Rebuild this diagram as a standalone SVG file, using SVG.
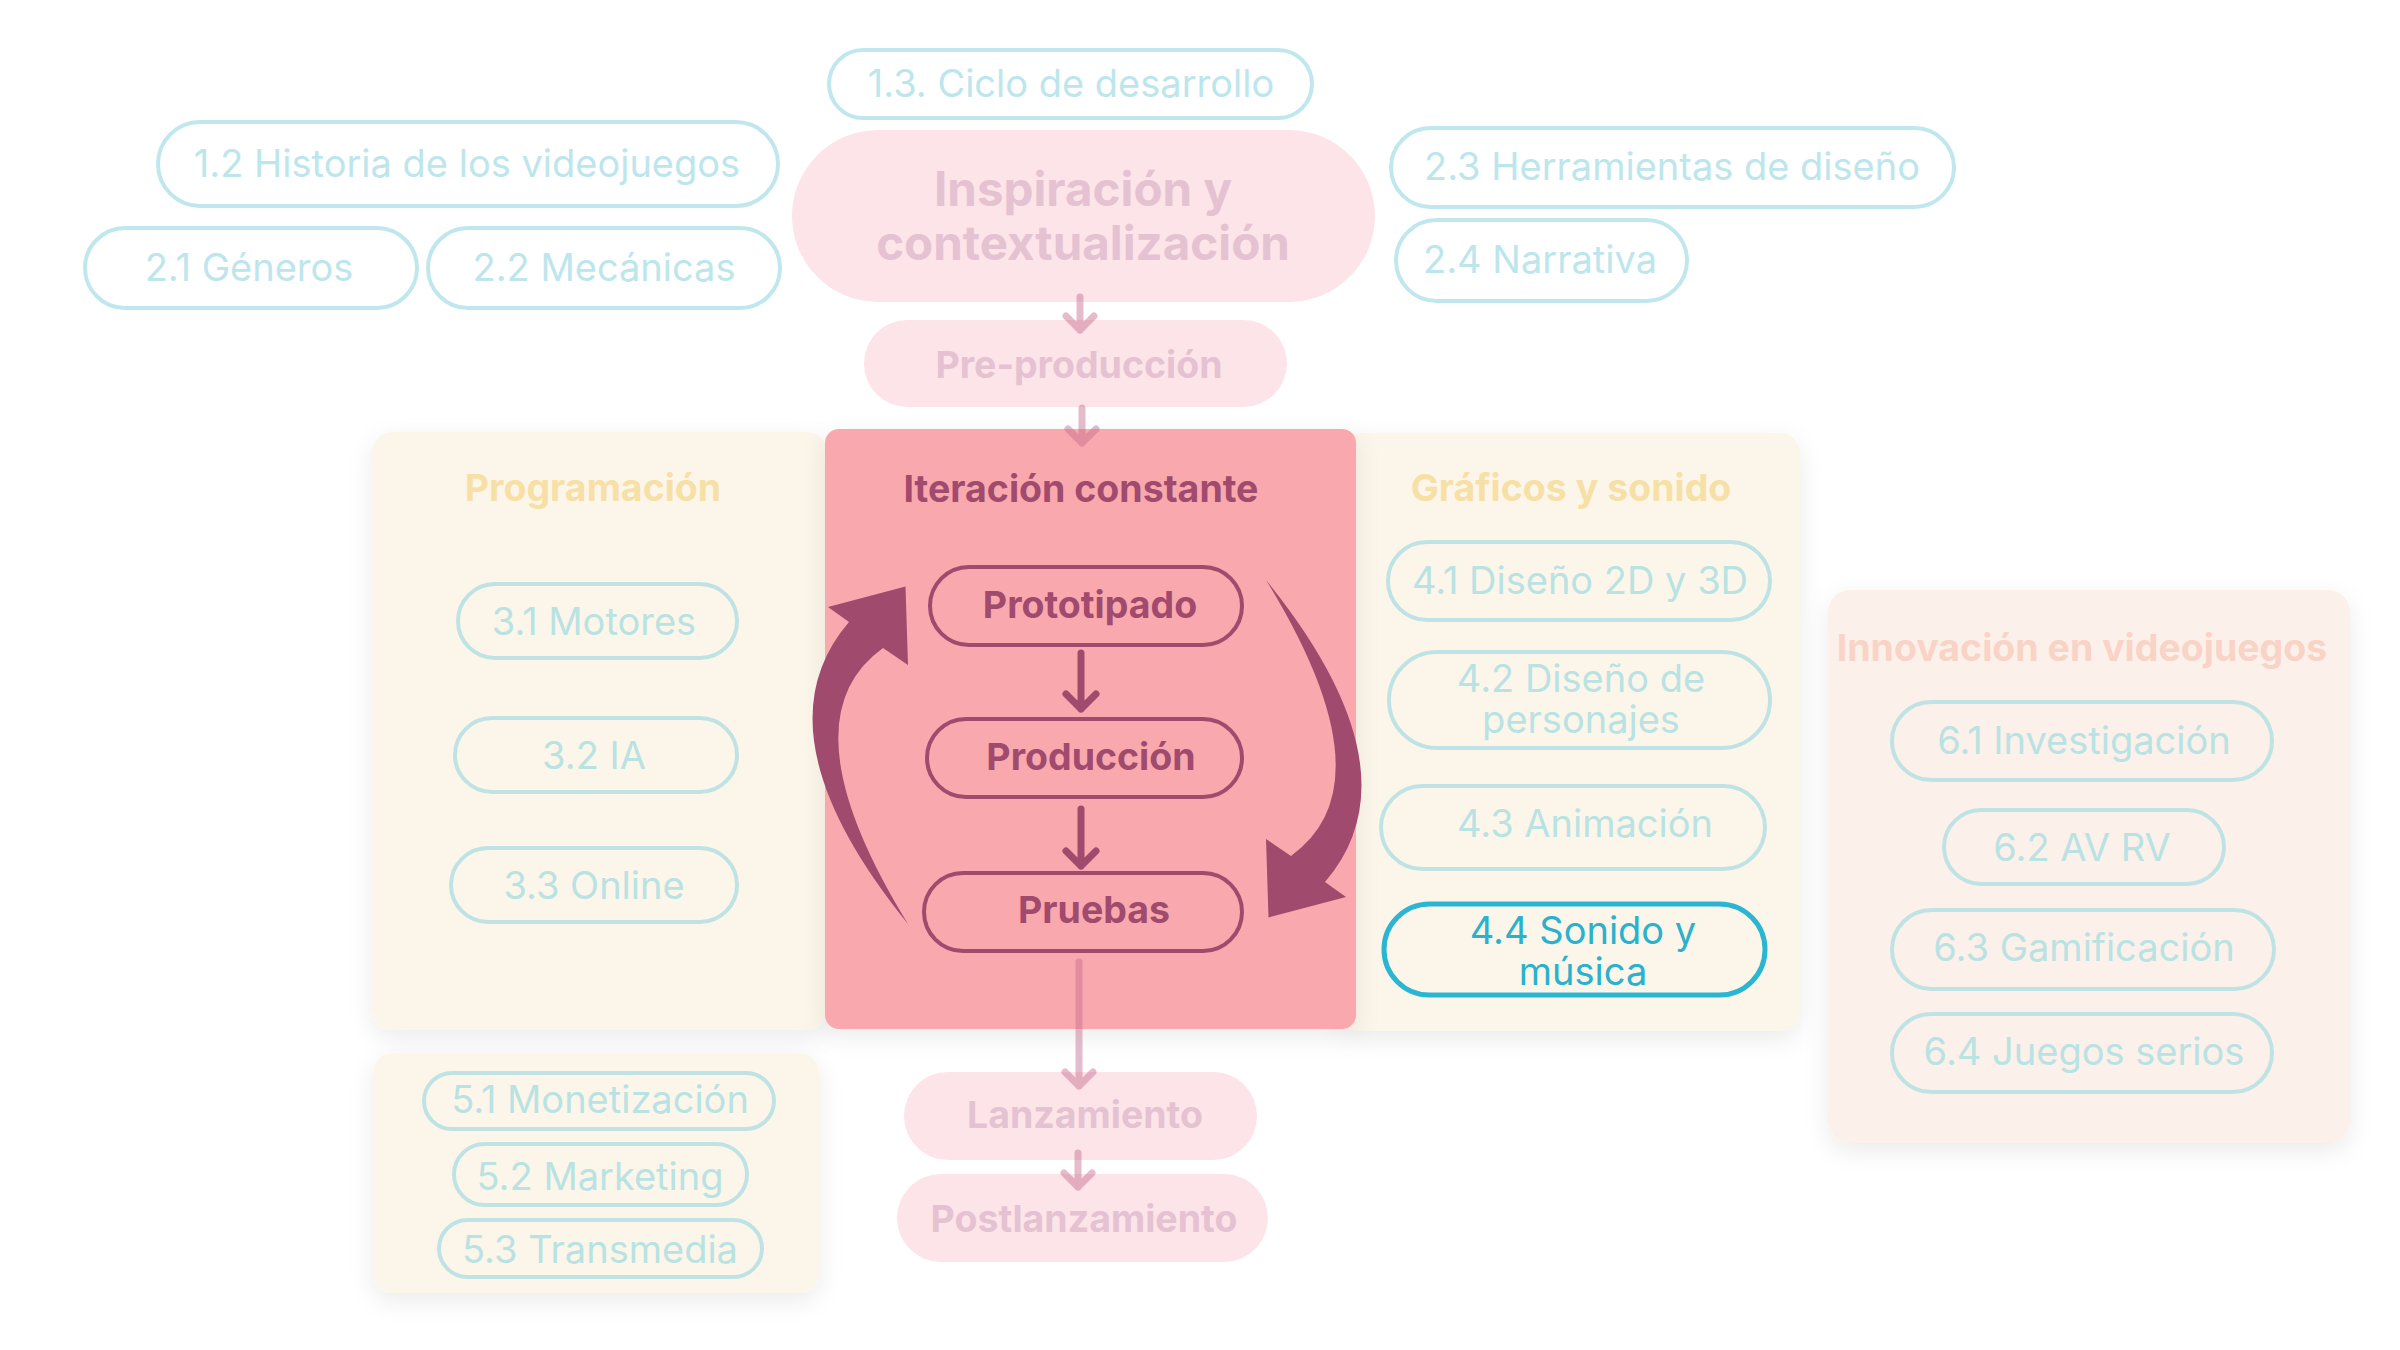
<svg xmlns="http://www.w3.org/2000/svg" width="2400" height="1350" viewBox="0 0 2400 1350">
<defs>
<filter id="sh" x="-20%" y="-20%" width="140%" height="140%">
<feDropShadow dx="0" dy="8" stdDeviation="12" flood-color="#000" flood-opacity="0.08"/>
</filter>
<style>
text{font-family:Inter,"Noto Sans","Liberation Sans",sans-serif;text-anchor:middle}
.cy{fill:none;stroke:#c0e7ee;stroke-width:4}
.cyp{fill:none;stroke:#bfe3e4;stroke-width:4}
.cyt{fill:#bde6ec;font-size:38px}
.cypt{fill:#b9e2e3;font-size:38px}
.pk{fill:#fde4e8}
.pkt{fill:#e4c2d1;font-size:37.5px;font-weight:700}
.panel{fill:#fcf6ea}
.ptitle{fill:#f7e0a6;font-size:37.5px;font-weight:700}
.core{fill:none;stroke:#a04a6e;stroke-width:4}
.coret{fill:#a04a6e;font-size:37.5px;font-weight:700}
.fa{fill:none;stroke:#c46a8e;stroke-opacity:0.45;stroke-width:7;stroke-linecap:round;stroke-linejoin:round}
.da{fill:none;stroke:#a04a6e;stroke-width:7;stroke-linecap:round;stroke-linejoin:round}
.big{fill:#a04a6e}
</style>
</defs>
<rect width="2400" height="1350" fill="#ffffff"/>

<g id="n13"><rect class="cy" x="829" y="50" width="483" height="68" rx="34"/><text class="cyt" x="1071" y="97">1.3. Ciclo de desarrollo</text></g>
<g id="n12"><rect class="cy" x="158" y="122" width="620" height="84" rx="42"/><text class="cyt" x="467" y="177">1.2 Historia de los videojuegos</text></g>
<g id="n21"><rect class="cy" x="85" y="228" width="332" height="80" rx="40"/><text class="cyt" x="249" y="281">2.1 Géneros</text></g>
<g id="n22"><rect class="cy" x="428" y="228" width="352" height="80" rx="40"/><text class="cyt" x="604" y="281">2.2 Mecánicas</text></g>
<g id="n23"><rect class="cy" x="1391" y="128" width="563" height="79" rx="39.5"/><text class="cyt" x="1672" y="180">2.3 Herramientas de diseño</text></g>
<g id="n24"><rect class="cy" x="1396" y="220" width="291" height="81" rx="40.5"/><text class="cyt" x="1540" y="273">2.4 Narrativa</text></g>

<g id="inspiracion"><rect class="pk" x="792" y="130" width="583" height="172" rx="86"/><text class="pkt" style="font-size:47.5px" x="1083" y="206">Inspiración y</text><text class="pkt" style="font-size:47.5px" x="1083" y="260">contextualización</text></g>
<g id="preproduccion"><rect class="pk" x="864" y="320" width="423" height="87" rx="43.5"/><text class="pkt" x="1079" y="378">Pre-producción</text></g>

<g id="programacion">
<rect class="panel" filter="url(#sh)" x="372" y="432" width="455" height="598" rx="20"/>
<text class="ptitle" x="593" y="501">Programación</text>
<g id="n31"><rect class="cyp" x="458" y="584" width="279" height="74" rx="37"/><text class="cypt" x="594" y="635">3.1 Motores</text></g>
<g id="n32"><rect class="cyp" x="455" y="718" width="282" height="74" rx="37"/><text class="cypt" x="594" y="769">3.2 IA</text></g>
<g id="n33"><rect class="cyp" x="451" y="848" width="286" height="74" rx="37"/><text class="cypt" x="594" y="899">3.3 Online</text></g>
</g>

<g id="graficos">
<rect class="panel" filter="url(#sh)" x="1340" y="433" width="460" height="598" rx="20"/>
<text class="ptitle" x="1571" y="501">Gráficos y sonido</text>
<g id="n41"><rect class="cyp" x="1388" y="542" width="382" height="78" rx="39"/><text class="cypt" x="1580" y="594">4.1 Diseño 2D y 3D</text></g>
<g id="n42"><rect class="cyp" x="1389" y="652" width="381" height="96" rx="48"/><text class="cypt" x="1581" y="692">4.2 Diseño de</text><text class="cypt" x="1581" y="733">personajes</text></g>
<g id="n43"><rect class="cyp" x="1381" y="786" width="384" height="83" rx="41.5"/><text class="cypt" x="1585" y="837">4.3 Animación</text></g>
<g id="n44"><rect fill="none" stroke="#2ab6d3" stroke-width="5" x="1384" y="904" width="381" height="91" rx="45.5"/><text class="cypt" style="fill:#29b1cd" x="1583" y="944">4.4 Sonido y</text><text class="cypt" style="fill:#29b1cd" x="1583" y="985">música</text></g>
</g>

<g id="innovacion">
<rect fill="#fcf0ea" filter="url(#sh)" x="1828" y="590" width="522" height="553" rx="22"/>
<text class="ptitle" style="fill:#f9d4c6" x="2082" y="661">Innovación en videojuegos</text>
<g id="n61"><rect class="cyp" x="1892" y="702" width="380" height="78" rx="39"/><text class="cypt" x="2084" y="754">6.1 Investigación</text></g>
<g id="n62"><rect class="cyp" x="1944" y="810" width="280" height="74" rx="37"/><text class="cypt" x="2082" y="861">6.2 AV RV</text></g>
<g id="n63"><rect class="cyp" x="1892" y="910" width="382" height="79" rx="39.5"/><text class="cypt" x="2084" y="961">6.3 Gamificación</text></g>
<g id="n64"><rect class="cyp" x="1892" y="1014" width="380" height="78" rx="39"/><text class="cypt" x="2084" y="1065">6.4 Juegos serios</text></g>
</g>

<g id="marketing">
<rect class="panel" filter="url(#sh)" x="373" y="1053" width="446" height="240" rx="20"/>
<g id="n51"><rect class="cyp" x="424" y="1073" width="350" height="56" rx="28"/><text class="cypt" x="600" y="1113">5.1 Monetización</text></g>
<g id="n52"><rect class="cyp" x="454" y="1144" width="293" height="61" rx="30.5"/><text class="cypt" x="600" y="1190">5.2 Marketing</text></g>
<g id="n53"><rect class="cyp" x="439" y="1220" width="323" height="57" rx="28.5"/><text class="cypt" x="600" y="1263">5.3 Transmedia</text></g>
</g>

<g id="iteracion">
<rect fill="#f9a8ad" filter="url(#sh)" x="825" y="429" width="531" height="600" rx="14"/>
<text class="coret" x="1081" y="502">Iteración constante</text>
<g id="prototipado"><rect class="core" x="930" y="567" width="312" height="78" rx="39"/><text class="coret" x="1090" y="618">Prototipado</text></g>
<g id="produccion"><rect class="core" x="927" y="719" width="315" height="78" rx="39"/><text class="coret" x="1091" y="770">Producción</text></g>
<g id="pruebas"><rect class="core" x="924" y="873" width="318" height="78" rx="39"/><text class="coret" x="1094" y="923">Pruebas</text></g>
<path class="big" d="M908,924 Q753.5,733 849,622 L828,607 L905.5,586.5 L908,665 L883,648 Q782.5,720 908,924 Z"/>
<path class="big" transform="rotate(180 1087 752)" d="M908,924 Q753.5,733 849,622 L828,607 L905.5,586.5 L908,665 L883,648 Q782.5,720 908,924 Z"/>
</g>

<g id="lanzamiento"><rect class="pk" x="904" y="1072" width="353" height="88" rx="44"/><text class="pkt" x="1085" y="1128">Lanzamiento</text></g>
<g id="postlanzamiento"><rect class="pk" x="897" y="1174" width="371" height="88" rx="44"/><text class="pkt" x="1084" y="1232">Postlanzamiento</text></g>

<g id="connectors">
<path class="fa" d="M1080,297 L1080,330 M1066,316 L1080,330 L1094,316"/>
<path class="fa" d="M1082,408 L1082,443 M1068,429 L1082,443 L1096,429"/>
<path class="da" d="M1081,653 L1081,709 M1066,694 L1081,709 L1096,694"/>
<path class="da" d="M1081,809 L1081,866 M1066,851 L1081,866 L1096,851"/>
<path class="fa" d="M1079,962 L1079,1086 M1065,1072 L1079,1086 L1093,1072"/>
<path class="fa" d="M1078,1153 L1078,1187 M1064,1173 L1078,1187 L1092,1173"/>
</g>
</svg>
